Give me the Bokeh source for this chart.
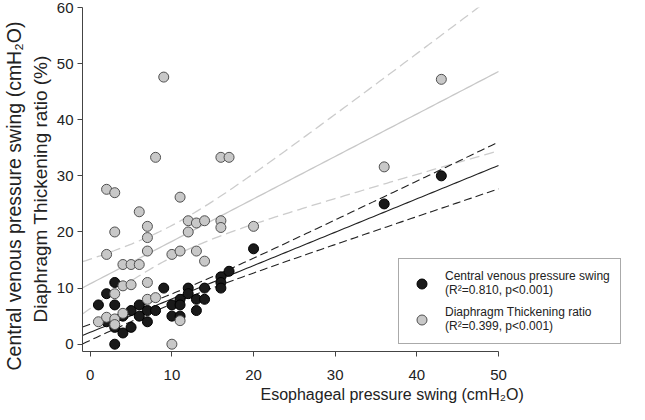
import numpy as np
from bokeh.plotting import figure
from bokeh.models import Legend, LegendItem, Title
from bokeh.embed import file_html
from bokeh.resources import INLINE

# ---- data ----
cvp_x = [1, 2, 3, 3, 3, 3, 2, 4, 4, 5, 5, 6, 6, 7, 7, 8, 9, 10, 10, 11, 11, 11,
         12, 12, 13, 13, 14, 14, 16, 16, 16, 17, 20, 36, 43]
cvp_y = [7, 9, 11, 7, 3, 0, 4, 5, 2, 6, 3, 7, 5, 6, 4, 6, 10, 7, 5, 8, 7, 5,
         10, 9, 8, 6, 10, 8, 12, 11, 10, 13, 17, 25, 30]

dtr_x = [2, 3, 3, 2, 6, 7, 7, 7, 4, 5, 6, 4, 5, 7, 3, 7, 8, 1, 2, 3, 3, 4,
         10, 11, 11, 12, 12, 13, 13, 14, 14, 16, 16, 11, 10, 9, 8, 16, 17, 20, 36, 43]
dtr_y = [27.6, 27.0, 20.0, 16.0, 23.6, 21.0, 19.0, 16.6, 14.2, 14.2, 14.2, 10.4,
         10.6, 11.0, 9.0, 8.0, 8.3, 4.0, 4.8, 4.5, 3.5, 5.5, 16.0, 26.2, 16.6,
         22.0, 20.0, 21.6, 16.6, 22.0, 14.8, 22.0, 20.8, 4.2, 0.0, 47.6, 33.3,
         33.3, 33.3, 21.0, 31.6, 47.2]

x_ticks = [0, 10, 20, 30, 40, 50]
y_ticks = [0, 10, 20, 30, 40, 50, 60]

cvp_label = "Central venous pressure swing\n(R\u00b2=0.810, p<0.001)"
dtr_label = "Diaphragm Thickening ratio\n(R\u00b2=0.399, p<0.001)"
x_title = "Esophageal pressure swing (cmH\u2082O)"
y_title_1 = "Central venous pressure swing (cmH\u2082O)"
y_title_2 = "Diaphragm Thickening ratio (%)"

T_CVP = 2.035   # t(0.975, df=33)
T_DTR = 2.021   # t(0.975, df=40)

X_MIN, X_AXIS_END, X_MAX = -0.95, 50, 65.8
Y_MIN, Y_MAX = -1.3, 60
FONT = "Liberation Sans"


def fit(x, y, t):
    x = np.asarray(x, float)
    y = np.asarray(y, float)
    n = len(x)
    b1, b0 = np.polyfit(x, y, 1)
    xs = np.linspace(X_MIN, X_AXIS_END, 120)
    yh = b0 + b1 * xs
    s = np.sqrt(np.sum((y - (b0 + b1 * x)) ** 2) / (n - 2))
    sxx = np.sum((x - x.mean()) ** 2)
    se = s * np.sqrt(1.0 / n + (xs - x.mean()) ** 2 / sxx)
    return xs, yh, yh - t * se, yh + t * se


p = figure(width=629, height=404, x_range=(X_MIN, X_MAX), y_range=(Y_MIN, Y_MAX),
           output_backend="svg", toolbar_location=None,
           min_border_left=76, min_border_right=2, min_border_top=7,
           min_border_bottom=53)
p.grid.visible = False
p.outline_line_color = None
p.background_fill_color = "white"

for ax in (p.xaxis[0], p.yaxis[0]):
    ax.axis_line_color = "#444444"
    ax.major_tick_line_color = "#444444"
    ax.minor_tick_line_color = None
    ax.major_tick_in = 0
    ax.major_tick_out = 5
    ax.major_label_text_font = FONT
    ax.major_label_text_font_size = "15px"
    ax.major_label_text_color = "#222222"

p.xaxis.ticker = x_ticks
p.yaxis.ticker = y_ticks
p.xaxis.bounds = (X_MIN, X_AXIS_END)
p.xaxis.major_label_standoff = 13
p.yaxis.major_label_standoff = 4

# axis titles placed like the reference (inner line first)
title_style = dict(text_font=FONT, text_font_style="normal", text_color="#222222")
p.add_layout(Title(text=y_title_2, align="left", offset=29, standoff=5,
                   text_font_size="19px", **title_style), "left")
p.add_layout(Title(text=y_title_1, align="left", offset=-19, standoff=1,
                   text_font_size="19.5px", **title_style), "left")
p.add_layout(Title(text=x_title, align="left", offset=178, standoff=3,
                   text_font_size="16px", **title_style), "below")

# regression lines with 95% CI
xs, yh, lo, hi = fit(dtr_x, dtr_y, T_DTR)
p.line(xs, yh, line_color="#c8c8c8", line_width=1.3)
p.line(xs, lo, line_color="#cccccc", line_width=1.3, line_dash="10 5")
p.line(xs, hi, line_color="#cccccc", line_width=1.3, line_dash="10 5")

xs, yh, lo, hi = fit(cvp_x, cvp_y, T_CVP)
p.line(xs, yh, line_color="#222222", line_width=1.1)
p.line(xs, lo, line_color="#222222", line_width=1.1, line_dash="8 4")
p.line(xs, hi, line_color="#222222", line_width=1.1, line_dash="8 4")

r_cvp = p.scatter(cvp_x, cvp_y, size=10, fill_color="#1a1a1a", line_color="#000000",
                  line_width=1)
r_dtr = p.scatter(dtr_x, dtr_y, size=10, fill_color="#c8c8c8", line_color="#505050",
                  line_width=1)

legend = Legend(items=[LegendItem(label=cvp_label, renderers=[r_cvp]),
                       LegendItem(label=dtr_label, renderers=[r_dtr])],
                location=(316, 7))
legend.border_line_color = "#555555"
legend.border_line_width = 1
legend.background_fill_color = "white"
legend.background_fill_alpha = 1
legend.label_text_font = FONT
legend.label_text_font_size = "12px"
legend.label_text_color = "#222222"
legend.label_text_line_height = 1.15
legend.glyph_width = 25
legend.glyph_height = 25
legend.label_standoff = 11
legend.padding = 10
legend.spacing = 8
legend.margin = 0
p.add_layout(legend, "center")

open("out.html", "w").write(file_html(p, INLINE))
